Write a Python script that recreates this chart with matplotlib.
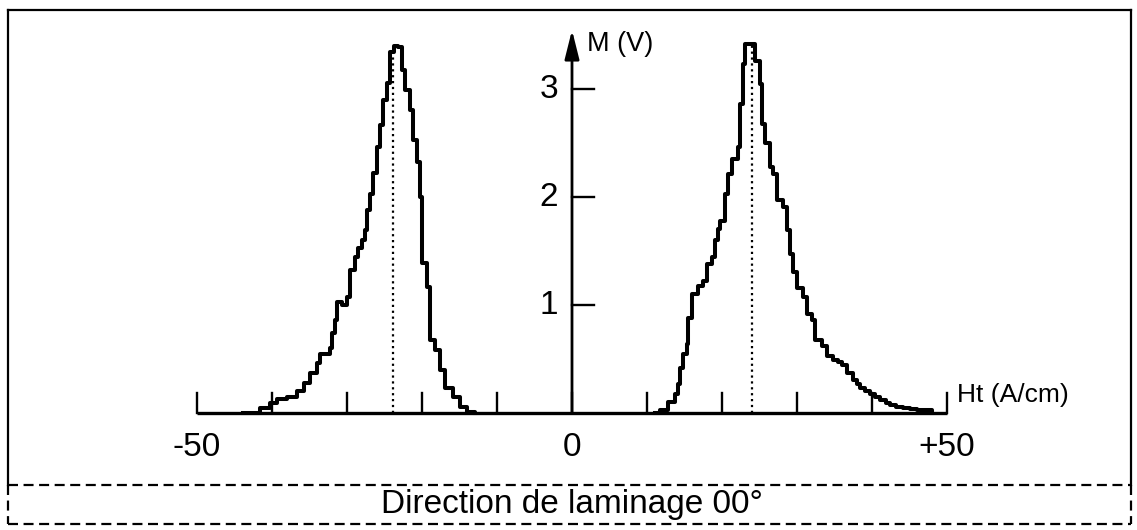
import matplotlib
matplotlib.use('Agg')
import matplotlib.pyplot as plt
from matplotlib.lines import Line2D

# stepped M(Ht) curves
left_h = [-43.9, -41.6, -40.3, -39.4, -38.0, -36.7, -35.8, -34.9, -34.0, -33.6,
          -32.3, -32.0, -31.6, -31.4, -30.7, -30.0, -29.6, -28.9, -28.5, -28.0,
          -27.6, -27.3, -26.9, -26.5, -26.0, -25.6, -25.2, -24.7, -24.3, -23.8,
          -23.2, -22.7, -22.3, -21.6, -21.2, -20.7, -20.3, -20.0, -19.4, -18.9,
          -18.3, -17.6, -16.9, -15.9, -14.9, -14.0, -13.0]
left_m = [0.0, 0.05, 0.09, 0.13, 0.15, 0.20, 0.28, 0.37, 0.46, 0.55,
          0.60, 0.74, 0.86, 1.03, 1.00, 1.07, 1.32, 1.44, 1.53, 1.60,
          1.69, 1.88, 2.03, 2.22, 2.46, 2.67, 2.90, 3.06, 3.34, 3.40,
          3.39, 3.18, 2.99, 2.81, 2.53, 2.32, 2.00, 1.39, 1.17, 0.68,
          0.58, 0.40, 0.23, 0.15, 0.06, 0.01, 0.0]

right_h = [11.0, 11.7, 12.8, 13.7, 14.1, 14.4, 14.8, 15.3, 15.5, 16.0,
           16.8, 17.5, 18.0, 18.7, 19.1, 19.5, 19.7, 20.4, 20.8, 21.3,
           22.1, 22.4, 22.8, 23.1, 24.4, 25.1, 25.3, 25.7, 26.4, 26.8,
           27.3, 28.1, 28.7, 29.1, 29.5, 30.0, 30.8, 31.3, 32.0, 32.4,
           33.3, 34.0, 34.8, 35.4, 36.0, 36.7, 37.5, 38.0, 38.4, 39.0,
           39.7, 40.4, 41.1, 41.8, 42.4, 43.2, 44.1, 45.0, 46.0, 48.0]
right_m = [0.0, 0.03, 0.10, 0.18, 0.27, 0.42, 0.55, 0.64, 0.88, 1.10,
           1.18, 1.22, 1.38, 1.44, 1.60, 1.70, 1.78, 2.03, 2.21, 2.35,
           2.46, 2.86, 3.23, 3.42, 3.26, 3.05, 2.68, 2.50, 2.28, 2.21,
           1.97, 1.91, 1.69, 1.47, 1.31, 1.16, 1.07, 0.92, 0.86, 0.68,
           0.62, 0.53, 0.49, 0.47, 0.44, 0.37, 0.31, 0.27, 0.23, 0.20,
           0.18, 0.15, 0.12, 0.09, 0.07, 0.06, 0.05, 0.04, 0.03, 0.0]

peak_h = [-23.9, 24.0]
peak_m = [3.38, 3.42]

x_ticks = [-50, -40, -30, -20, -10, 0, 10, 20, 30, 40, 50]
x_labels = {-50: '-50', 0: '0', 50: '+50'}
y_ticks = [1, 2, 3]
y_labels = ['1', '2', '3']

W, H = 1137, 530
PX_X = 7.5    # pixels per A/cm
PX_Y = 108.0  # pixels per volt
X0, Y0 = 572, 413


def fx(px):
    return px / W


def fy(py):
    return 1 - py / H


def draw_frame(fig):
    solid = dict(color='black', lw=1.6, transform=fig.transFigure)
    dashed = dict(color='black', lw=1.6, ls=(0, (4.5, 2.5)), transform=fig.transFigure)
    fig.add_artist(Line2D([fx(8), fx(1131)], [fy(10), fy(10)], **solid))
    fig.add_artist(Line2D([fx(8), fx(8)], [fy(10), fy(485)], **solid))
    fig.add_artist(Line2D([fx(1131), fx(1131)], [fy(10), fy(485)], **solid))
    fig.add_artist(Line2D([fx(8), fx(1131)], [fy(485), fy(485)], **dashed))
    fig.add_artist(Line2D([fx(8), fx(1131)], [fy(524), fy(524)], **dashed))
    fig.add_artist(Line2D([fx(8), fx(8)], [fy(485), fy(524)], **dashed))
    fig.add_artist(Line2D([fx(1131), fx(1131)], [fy(485), fy(524)], **dashed))
    fig.text(fx(572), fy(505), 'Direction de laminage 00°', ha='center',
             va='center', fontsize=24)


def main():
    plt.rcParams['font.family'] = ['Liberation Sans', 'DejaVu Sans']
    fig = plt.figure(figsize=(W / 100, H / 100), dpi=100)
    fig.patch.set_facecolor('white')
    ax = fig.add_axes([0, 0, 1, 1])
    ax.set_xlim(-X0 / PX_X, (W - X0) / PX_X)
    ax.set_ylim((Y0 - H) / PX_Y, Y0 / PX_Y)
    ax.axis('off')

    # axes drawn by hand like the original
    ax.plot([x_ticks[0], x_ticks[-1]], [0, 0], color='black', lw=2.4,
            solid_capstyle='butt')
    tick_len = 20 / PX_Y
    for t in x_ticks:
        ax.plot([t, t], [0, tick_len], color='black', lw=1.7)
        if t in x_labels:
            ax.text(t, -34 / PX_Y, x_labels[t], ha='center', va='center',
                    fontsize=24)
    ax.annotate('', xy=(0, 383 / PX_Y), xytext=(0, 0),
                arrowprops=dict(arrowstyle='-|>,head_length=0.8,head_width=0.2',
                                lw=2.0, color='black', mutation_scale=22,
                                shrinkA=0, shrinkB=0))
    for t, lab in zip(y_ticks, y_labels):
        ax.plot([0, 22 / PX_X], [t, t], color='black', lw=1.7)
        ax.text(-14 / PX_X, t, lab, ha='right', va='center', fontsize=24)
    ax.text(15 / PX_X, 369 / PX_Y, 'M (V)', ha='left', va='center', fontsize=19.5)
    ax.text(385 / PX_X, 18 / PX_Y, 'Ht (A/cm)', ha='left', va='center',
            fontsize=19)

    ax.plot(left_h, left_m, color='black', lw=2.9, drawstyle='steps-post')
    ax.plot(right_h, right_m, color='black', lw=2.9, drawstyle='steps-post')
    for h, m in zip(peak_h, peak_m):
        ax.plot([h, h], [0, m], color='black', lw=1.6, ls=':')

    draw_frame(fig)
    fig.savefig('out.png', dpi=100)


if __name__ == '__main__':
    main()
